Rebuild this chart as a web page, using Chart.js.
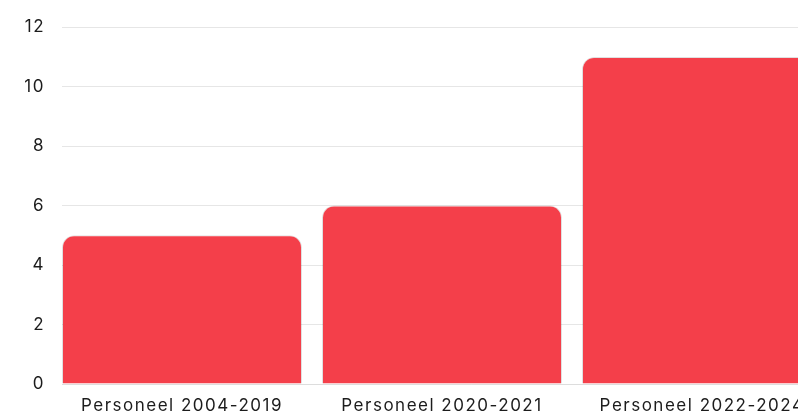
<!DOCTYPE html>
<html>
<head>
<meta charset="utf-8">
<script src="https://cdn.jsdelivr.net/npm/chart.js@4.4.1/dist/chart.umd.min.js"></script>
<style>
  html, body { margin: 0; padding: 0; background: #fff; overflow: hidden; }
  #wrap { width: 880px; height: 412px; position: relative; }
</style>
</head>
<body>
<div id="wrap"><canvas id="personeelChart"></canvas></div>
<script>
const categories = ['Personeel 2004-2019', 'Personeel 2020-2021', 'Personeel 2022-2024'];
const values = [5, 6, 11];
const yTicks = [0, 2, 4, 6, 8, 10, 12];

const barRed = '#f43f4a';
const textColor = '#1c1c1c';
const gridColor = '#e6e6e6';
const font = { family: 'Inter', size: 17 };

// wat ruimere letters, zoals in het origineel
const spacingPlugin = {
    id: 'letterSpacing',
    beforeLayout(chart) { chart.ctx.letterSpacing = '1.5px'; },
    beforeDraw(chart) { chart.ctx.letterSpacing = '1.5px'; }
};

const ctx = document.getElementById('personeelChart').getContext('2d');

new Chart(ctx, {
    type: 'bar',
    data: {
        datasets: [{
            data: values.map((v, i) => ({ x: i, y: v })),
            backgroundColor: barRed,
            borderColor: 'rgba(0, 0, 0, 0.12)',
            borderWidth: 1,
            borderRadius: 12,
            borderSkipped: 'bottom',
            categoryPercentage: 1,
            barPercentage: 240 / 260
        }]
    },
    plugins: [spacingPlugin],
    options: {
        responsive: true,
        maintainAspectRatio: false,
        animation: false,
        layout: { padding: { top: 24, left: 0, right: 0, bottom: 0 } },
        plugins: {
            legend: { display: false },
            tooltip: { enabled: false }
        },
        scales: {
            x: {
                type: 'linear',
                offset: false,
                min: -120 / 260,
                max: -120 / 260 + 818 / 260,
                afterFit: (scale) => { scale.height = 28; },
                grid: { display: false, offset: false },
                border: { display: true, color: '#dddddd' },
                ticks: {
                    stepSize: 1,
                    includeBounds: false,
                    autoSkip: false,
                    maxRotation: 0,
                    color: textColor,
                    font: font,
                    padding: 4,
                    callback: (value) => categories[value] ?? ''
                }
            },
            y: {
                min: yTicks[0],
                max: yTicks[yTicks.length - 1],
                afterFit: (scale) => { scale.width = 62; },
                afterBuildTicks: (scale) => { scale.ticks = yTicks.map(v => ({ value: v })); },
                grid: { color: gridColor, drawTicks: false },
                border: { display: false },
                ticks: {
                    color: textColor,
                    font: font,
                    padding: 17
                }
            }
        }
    }
});
</script>
</body>
</html>
